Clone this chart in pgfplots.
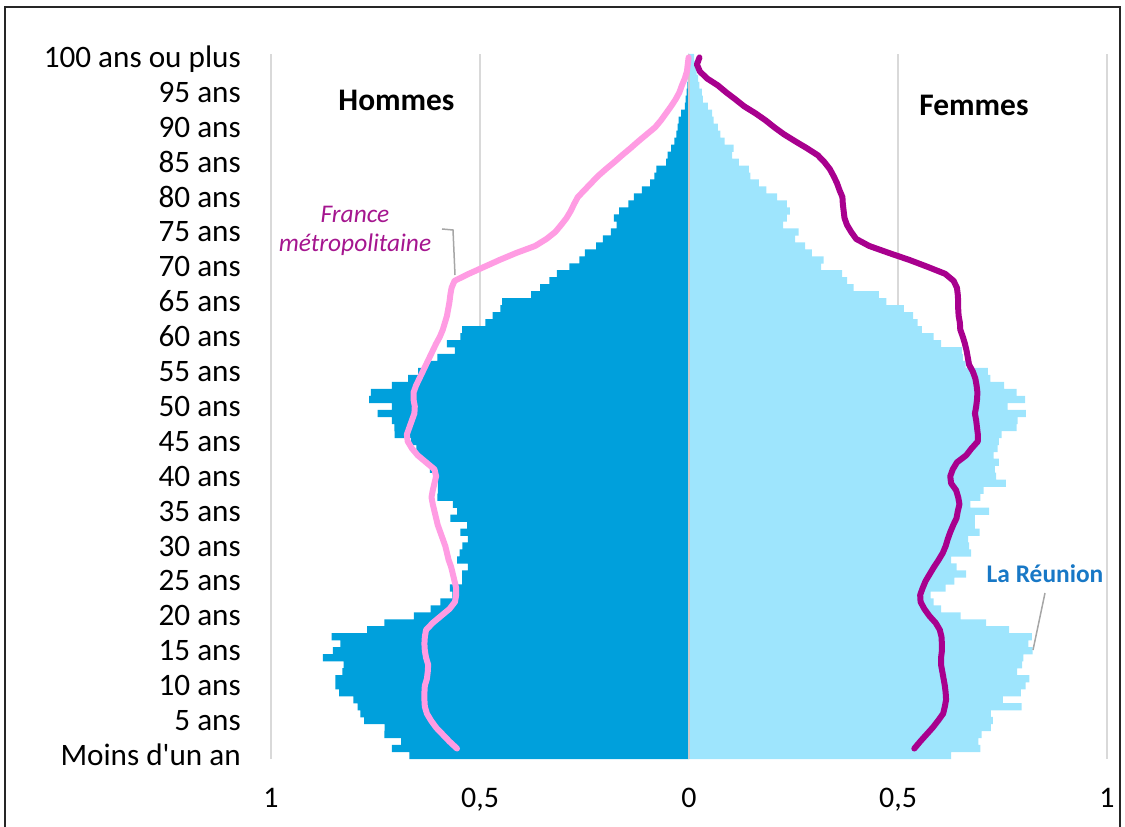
\documentclass[border=0pt]{standalone}
\usepackage{fontspec}
\setmainfont{Carlito}
\usepackage{pgfplots}
\usepackage{pgfplotstable}
\pgfplotsset{compat=1.18}

\definecolor{homreu}{HTML}{00A0DC}
\definecolor{femreu}{HTML}{9EE5FD}
\definecolor{hommet}{HTML}{FF9CE3}
\definecolor{femmet}{HTML}{A8008E}
\definecolor{grille}{HTML}{D9D9D9}
\definecolor{txtmet}{HTML}{A5168F}
\definecolor{txtreu}{HTML}{1878C6}

% La Reunion : part de chaque age (hommes a gauche, femmes a droite)
\pgfplotstableread{
age hom fem
0 0.669 0.627
1 0.711 0.697
2 0.689 0.692
3 0.729 0.700
4 0.728 0.722
5 0.777 0.727
6 0.786 0.722
7 0.793 0.796
8 0.803 0.751
9 0.837 0.794
10 0.846 0.805
11 0.846 0.814
12 0.829 0.785
13 0.826 0.797
14 0.876 0.800
15 0.852 0.822
16 0.834 0.812
17 0.855 0.820
18 0.770 0.766
19 0.729 0.711
20 0.658 0.650
21 0.618 0.603
22 0.595 0.585
23 0.566 0.578
24 0.572 0.614
25 0.543 0.635
26 0.543 0.663
27 0.529 0.640
28 0.555 0.627
29 0.549 0.675
30 0.542 0.670
31 0.529 0.668
32 0.547 0.695
33 0.531 0.684
34 0.571 0.684
35 0.555 0.718
36 0.565 0.673
37 0.602 0.697
38 0.601 0.705
39 0.601 0.758
40 0.604 0.735
41 0.620 0.732
42 0.629 0.741
43 0.646 0.729
44 0.652 0.738
45 0.665 0.741
46 0.704 0.748
47 0.705 0.784
48 0.711 0.786
49 0.745 0.806
50 0.711 0.762
51 0.765 0.804
52 0.761 0.784
53 0.711 0.754
54 0.672 0.721
55 0.648 0.715
56 0.624 0.662
57 0.602 0.655
58 0.560 0.653
59 0.579 0.603
60 0.547 0.585
61 0.543 0.557
62 0.487 0.547
63 0.470 0.536
64 0.451 0.514
65 0.447 0.472
66 0.378 0.454
67 0.356 0.394
68 0.334 0.378
69 0.316 0.366
70 0.286 0.316
71 0.262 0.322
72 0.249 0.294
73 0.222 0.278
74 0.206 0.254
75 0.187 0.262
76 0.173 0.225
77 0.180 0.234
78 0.167 0.241
79 0.145 0.234
80 0.132 0.211
81 0.113 0.185
82 0.093 0.167
83 0.083 0.147
84 0.078 0.143
85 0.055 0.119
86 0.051 0.103
87 0.043 0.107
88 0.035 0.085
89 0.030 0.075
90 0.027 0.069
91 0.025 0.059
92 0.019 0.055
93 0.010 0.045
94 0.008 0.033
95 0.006 0.031
96 0.004 0.025
97 0.003 0.022
98 0.002 0.018
99 0.001 0.015
100 0.002 0.012
}\reunion

% France metropolitaine (courbes)
\pgfplotstableread{
t hom fem
1 0.555 0.539
2 0.573 0.553
3 0.589 0.568
4 0.605 0.583
5 0.617 0.596
6 0.627 0.608
7 0.632 0.612
8 0.633 0.615
9 0.633 0.614
10 0.632 0.612
11 0.627 0.609
12 0.625 0.606
13 0.624 0.603
14 0.629 0.603
15 0.632 0.605
16 0.633 0.605
17 0.632 0.604
18 0.629 0.600
19 0.613 0.590
20 0.593 0.575
21 0.573 0.563
22 0.560 0.554
23 0.557 0.553
24 0.557 0.559
25 0.561 0.566
26 0.565 0.576
27 0.569 0.586
28 0.575 0.597
29 0.579 0.607
30 0.583 0.614
31 0.589 0.619
32 0.595 0.625
33 0.601 0.632
34 0.605 0.640
35 0.609 0.643
36 0.613 0.647
37 0.616 0.644
38 0.613 0.639
39 0.609 0.627
40 0.605 0.625
41 0.609 0.631
42 0.629 0.641
43 0.649 0.663
44 0.663 0.676
45 0.673 0.691
46 0.675 0.691
47 0.669 0.689
48 0.663 0.687
49 0.657 0.684
50 0.656 0.687
51 0.659 0.689
52 0.659 0.690
53 0.653 0.688
54 0.645 0.685
55 0.637 0.679
56 0.629 0.670
57 0.621 0.667
58 0.613 0.664
59 0.605 0.660
60 0.596 0.655
61 0.589 0.649
62 0.584 0.648
63 0.579 0.645
64 0.576 0.644
65 0.573 0.644
66 0.571 0.643
67 0.568 0.641
68 0.561 0.633
69 0.527 0.613
70 0.490 0.571
71 0.453 0.527
72 0.413 0.478
73 0.368 0.431
74 0.341 0.400
75 0.320 0.388
76 0.306 0.378
77 0.293 0.372
78 0.283 0.370
79 0.275 0.368
80 0.266 0.367
81 0.250 0.360
82 0.234 0.354
83 0.218 0.346
84 0.199 0.337
85 0.179 0.324
86 0.160 0.308
87 0.140 0.282
88 0.121 0.254
89 0.101 0.227
90 0.081 0.204
91 0.067 0.183
92 0.055 0.159
93 0.043 0.132
94 0.032 0.111
95 0.023 0.089
96 0.017 0.069
97 0.010 0.043
98 0.005 0.026
99 0.003 0.019
100 0.001 0.025
}\metro

\begin{document}
\begin{tikzpicture}[x=1bp,y=1bp]
\path[use as bounding box] (0,0) rectangle (1125,827);
\draw[line width=2bp, black!85] (5,0) -- (5,820) -- (1120,820) -- (1120,0);

\begin{axis}[
  at={(271bp,68bp)}, anchor=south west,
  scale only axis, width=836bp, height=705bp,
  xmin=-1, xmax=1, ymin=-0.5, ymax=100.5,
  clip=false,
  axis line style={draw=none},
  major tick length=0pt,
  xmajorgrids,
  grid style={grille, line width=2.2bp},
  xtick={-1,-0.5,0,0.5,1},
  xticklabels={1,{0,5},0,{0,5},1},
  ytick={0,5,...,100},
  yticklabels={Moins d\textquotesingle un an,5 ans,10 ans,15 ans,20 ans,25 ans,30 ans,35 ans,40 ans,45 ans,50 ans,55 ans,60 ans,65 ans,70 ans,75 ans,80 ans,85 ans,90 ans,95 ans,100 ans ou plus},
  xticklabel style={font=\fontsize{30}{36}\selectfont, inner sep=0pt, anchor=base, yshift=-49bp},
  yticklabel style={font=\fontsize{31.3}{36}\selectfont, inner sep=0pt, anchor=base east, xshift=-30bp, yshift=-10bp},
]
\addplot[xbar, bar shift=0pt, bar width=1.04, fill=homreu, draw=none]
  table[x expr=-\thisrow{hom}, y=age] {\reunion};
\addplot[xbar, bar shift=0pt, bar width=1.04, fill=femreu, draw=none]
  table[x=fem, y=age] {\reunion};
\draw[gray!40, line width=2.5bp] (axis cs:0,-0.5) -- (axis cs:0,100.5);
\addplot[hommet, line width=6bp, line join=round, line cap=round]
  table[x expr=-\thisrow{hom}, y=t] {\metro};
\addplot[femmet, line width=6bp, line join=round, line cap=round]
  table[x=fem, y=t] {\metro};
\end{axis}

\node[font=\bfseries\fontsize{31.5}{36}\selectfont, inner sep=0pt] at (396.5,727) {Hommes};
\node[font=\bfseries\fontsize{31.5}{36}\selectfont, inner sep=0pt] at (974,722) {Femmes};
\node[font=\itshape\fontsize{25.5}{30}\selectfont, text=txtmet, inner sep=0pt, anchor=base] at (355,604.3) {France};
\node[font=\itshape\fontsize{25.5}{30}\selectfont, text=txtmet, inner sep=0pt, anchor=base] at (355,575.3) {métropolitaine};
\draw[gray!70, line width=1.5bp] (442,598) -- (453,597) -- (455,552);
\node[font=\bfseries\fontsize{25.5}{30}\selectfont, text=txtreu, inner sep=0pt, anchor=base] at (1045,244.3) {La Réunion};
\draw[gray!70, line width=1.5bp] (1045,234) -- (1033,177);
\end{tikzpicture}
\end{document}
